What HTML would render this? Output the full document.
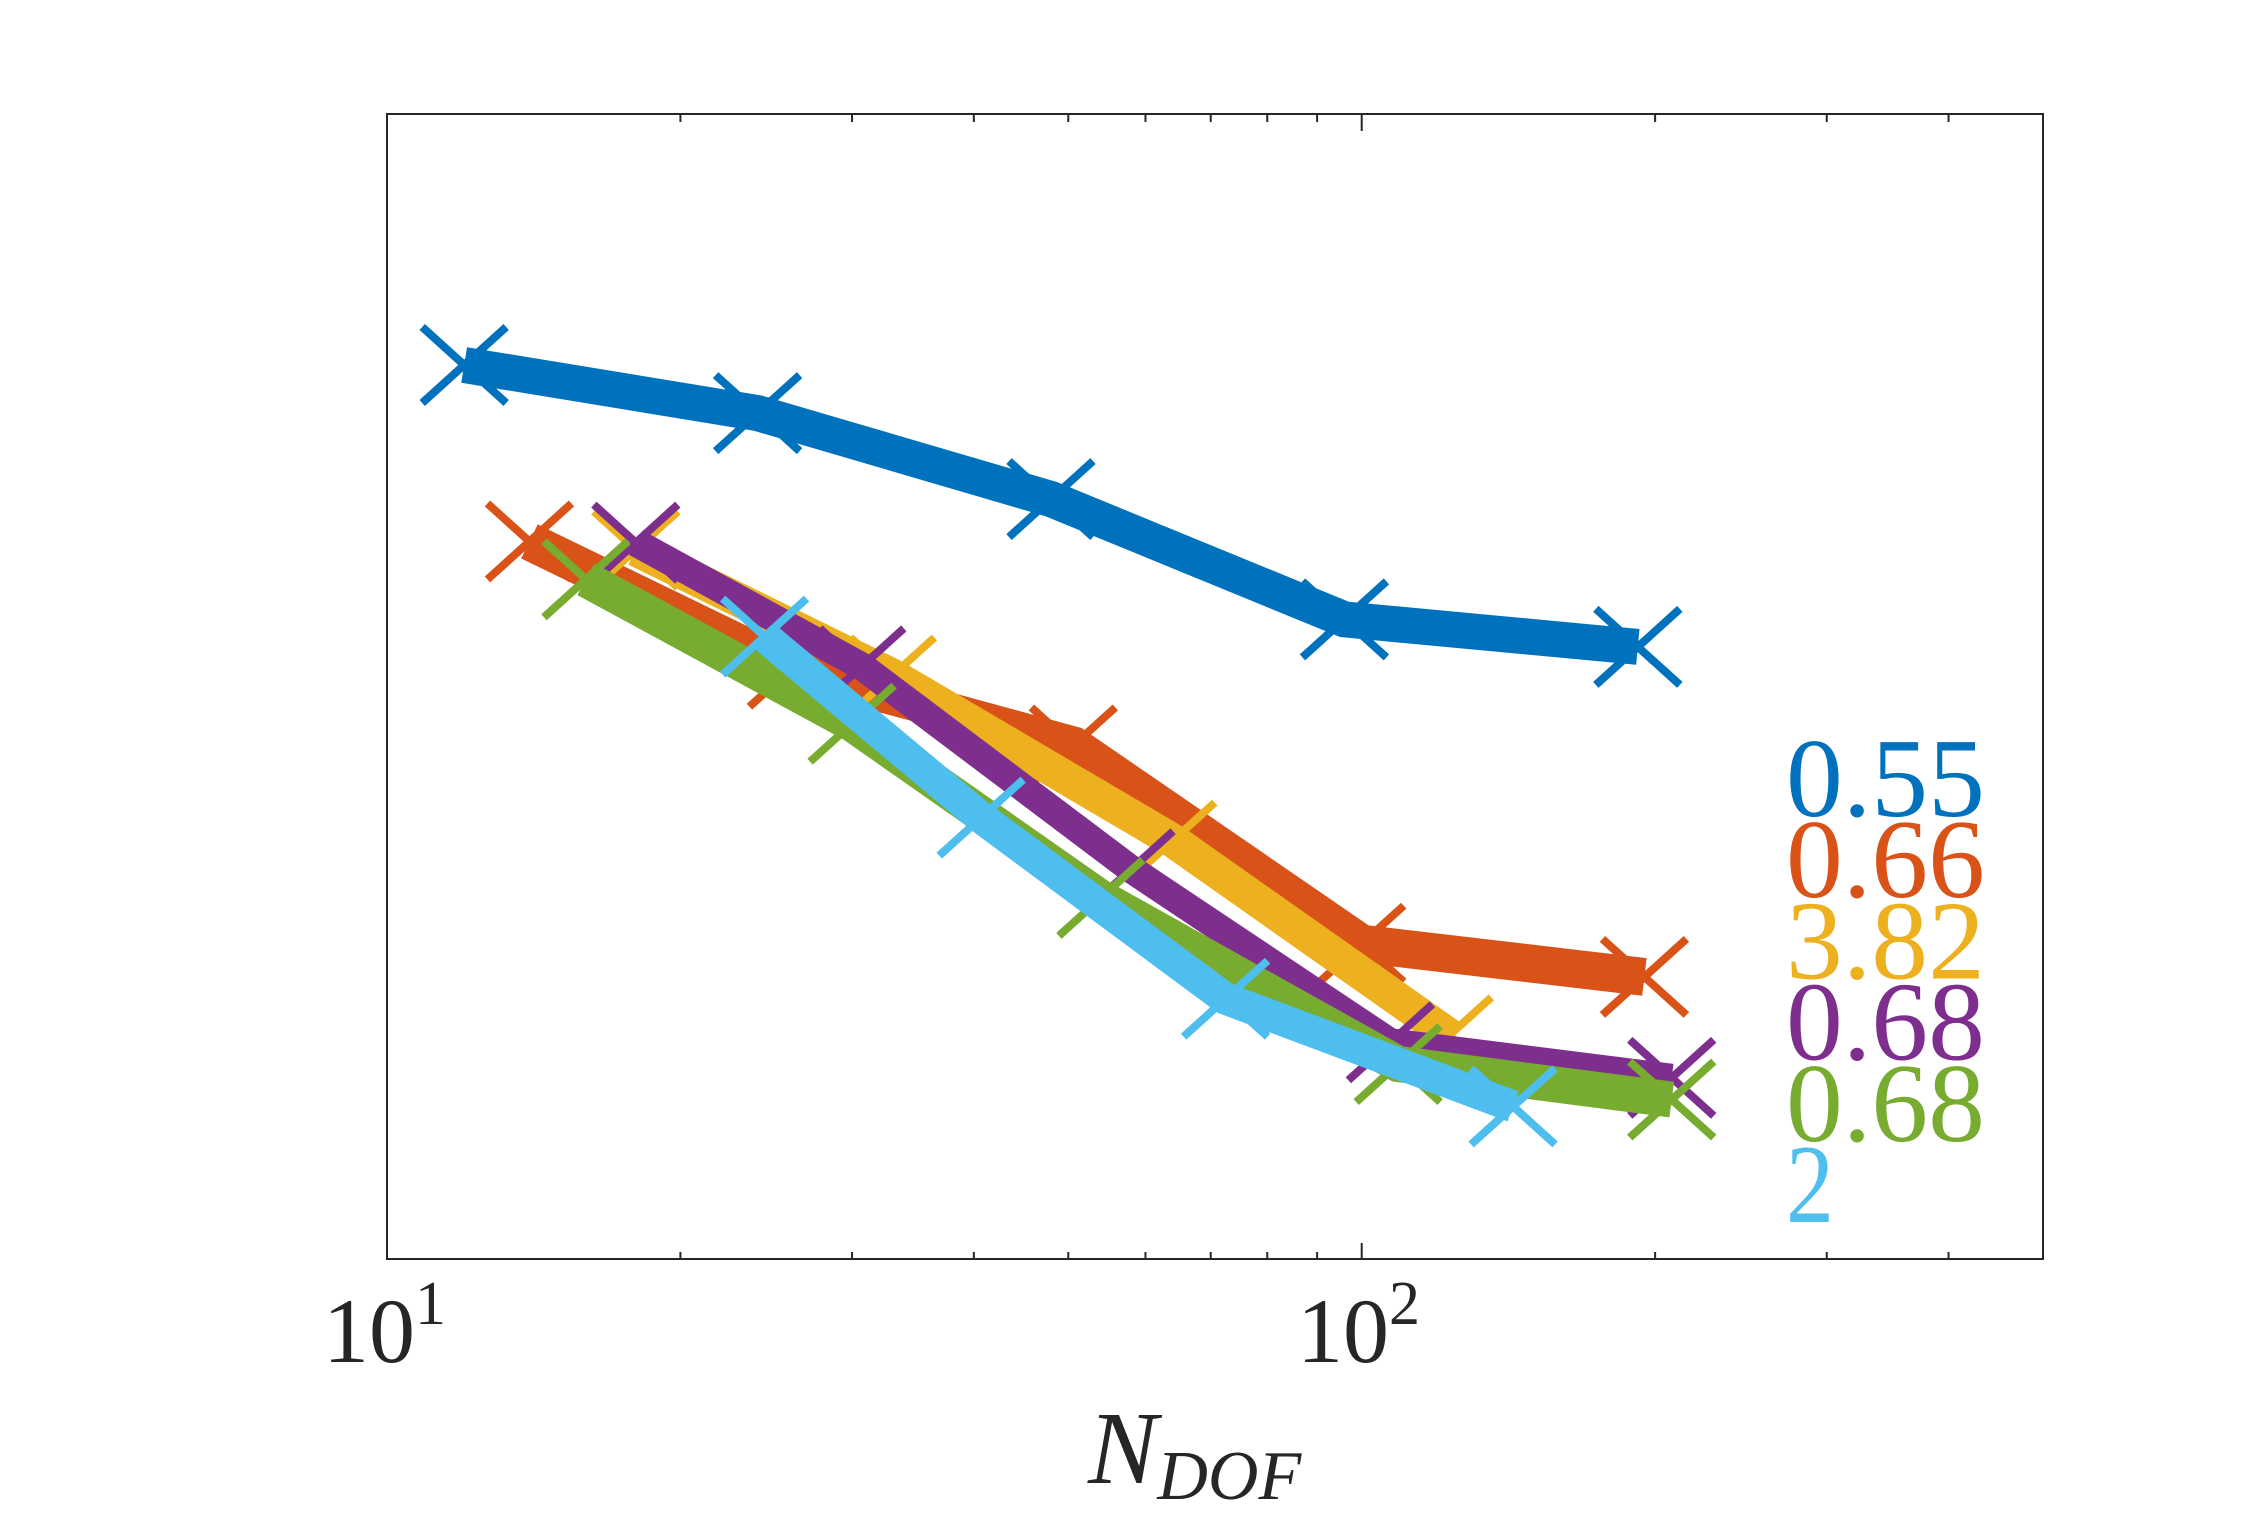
<!DOCTYPE html>
<html><head><meta charset="utf-8"><style>
html,body{margin:0;padding:0;background:#fff;}
svg{display:block;}
</style></head><body>
<svg id="chart" width="2250" height="1520" viewBox="0 0 2250 1520" xmlns="http://www.w3.org/2000/svg">
<rect x="0" y="0" width="2250" height="1520" fill="#fff"/>
<g id="ticks"></g>
<g id="series"></g>
<rect x="387" y="114" width="1656" height="1145" fill="none" stroke="#262626" stroke-width="2"/>
<g font-family="Liberation Serif, serif" fill="#262626">
<text x="323" y="1362" font-size="92">10<tspan font-size="62" dy="-38">1</tspan></text>
<text x="1297" y="1362" font-size="92">10<tspan font-size="62" dy="-38">2</tspan></text>
</g>
<text x="1088" y="1483" font-family="Liberation Serif, serif" font-style="italic" font-size="104" fill="#262626">N<tspan font-size="70" dy="16">DOF</tspan></text>
<g id="labels" font-family="Liberation Serif, serif" font-size="112"></g>
</svg>
<script>
const seriesNames = ['blue','orange','yellow','purple','green','lightblue'];
const colors = ['#0072BD','#D95319','#EDB120','#7E2F8E','#77AC30','#4DBEEE'];
const widths = [36,38,34,28,36,32];
const xBlue = [12,24,48,96,192];
const yBlue = [78.1,73.9,66.4,55.9,53.5];
const xOrange = [14,26,50.6,100,195];
const yOrange = [62.7,51.6,44.9,27.6,24.7];
const xYellow = [18,33,64,123];
const yYellow = [62.0,51.0,36.6,19.6];
const xPurple = [18,30.7,58,107,208];
const yPurple = [62.6,51.8,34.1,19.0,15.9];
const xGreen = [16,30,54,109,208];
const yGreen = [59.4,46.8,31.6,17.1,14.0];
const xLight = [24.4,40.7,72.5,143];
const yLight = [54.4,38.6,22.8,13.4];
const rateLabels = ['0.55','0.66','3.82','0.68','0.68','2'];
const minorTicks = [20,30,40,50,60,70,80,90,200,300,400,500];
const majorTicks = [10,100];

const X0=387, X1=2043, Y0=114, Y1=1260;
const xMin=10, xMax=500;
function xs(v){return X0+(Math.log10(v)-Math.log10(xMin))/(Math.log10(xMax)-Math.log10(xMin))*(X1-X0);}
function ys(v){return Y1-(v/100)*(Y1-Y0);}
const NS='http://www.w3.org/2000/svg';

const tg=document.getElementById('ticks');
[...minorTicks.map(t=>[t,8]),...majorTicks.map(t=>[t,17])].forEach(([t,len])=>{
  const x=xs(t);
  if(x<=X0+1||x>=X1-1)return;
  [[Y1,Y1-len],[Y0,Y0+len]].forEach(([a,b])=>{
    const l=document.createElementNS(NS,'line');
    
    
    l.setAttribute('x1',x);l.setAttribute('x2',x);l.setAttribute('y1',a);l.setAttribute('y2',b);
    l.setAttribute('stroke','#262626');l.setAttribute('stroke-width','2');
    tg.appendChild(l);
  });
});

const data=[[xBlue,yBlue],[xOrange,yOrange],[xYellow,yYellow],[xPurple,yPurple],[xGreen,yGreen],[xLight,yLight]];
const sg=document.getElementById('series');
data.forEach(([xv,yv],i)=>{
  const g=document.createElementNS(NS,'g');
  
  
  const p=document.createElementNS(NS,'polyline');
  
  
  p.setAttribute('points',xv.map((x,j)=>xs(x)+','+ys(yv[j])).join(' '));
  p.setAttribute('fill','none');p.setAttribute('stroke',colors[i]);
  p.setAttribute('stroke-width',widths[i]);p.setAttribute('stroke-linejoin','miter');p.setAttribute('stroke-linecap','butt');
  g.appendChild(p);
  xv.forEach((x,j)=>{
    const cx=xs(x), cy=ys(yv[j]);
    const m=document.createElementNS(NS,'path');
    
    
    m.setAttribute('d',`M${cx-42},${cy-38}L${cx+42},${cy+38}M${cx-42},${cy+38}L${cx+42},${cy-38}`);
    m.setAttribute('stroke',colors[i]);m.setAttribute('stroke-width','8');m.setAttribute('fill','none');
    g.appendChild(m);
  });
  sg.appendChild(g);
});

const lg=document.getElementById('labels');
rateLabels.forEach((t,i)=>{
  const tx=document.createElementNS(NS,'text');
  
  
  tx.setAttribute('x',1786);tx.setAttribute('y',816+i*81.2);
  tx.setAttribute('fill',colors[i]);
  tx.setAttribute('textLength',t.length>1?199:48);
  tx.setAttribute('lengthAdjust','spacingAndGlyphs');
  tx.textContent=t;
  lg.appendChild(tx);
});
</script>
</body></html>
